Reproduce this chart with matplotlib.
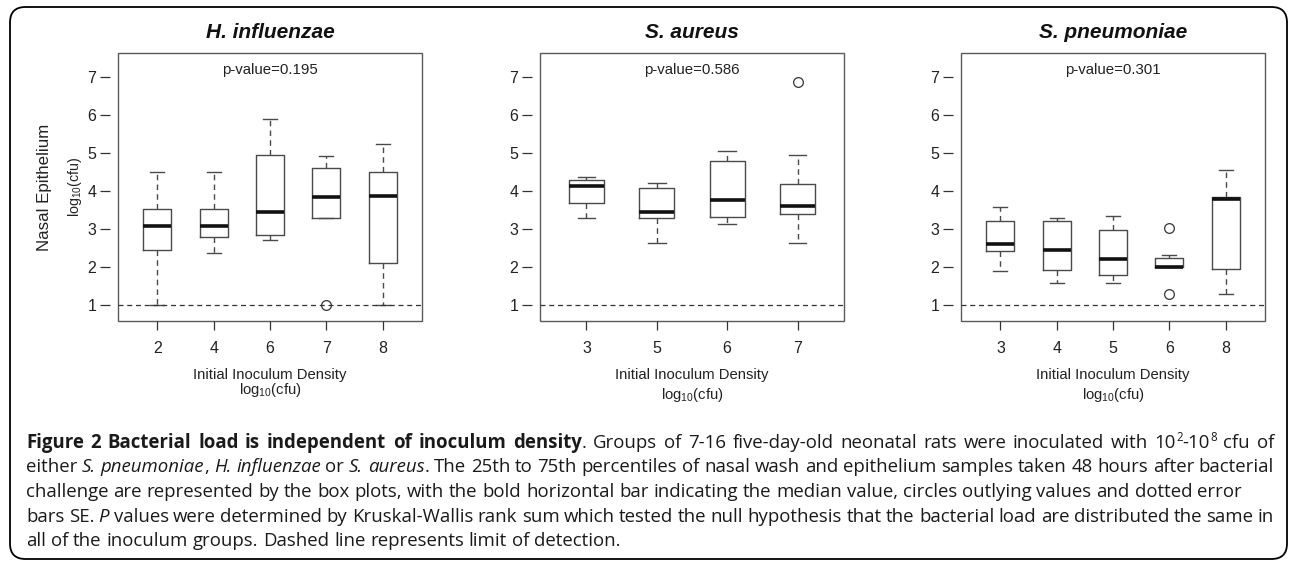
import matplotlib
matplotlib.use("Agg")
import matplotlib.pyplot as plt
from matplotlib import font_manager
from matplotlib.font_manager import FontProperties
from matplotlib.patches import Rectangle, FancyBboxPatch

W, H = 1290, 562

# ---------------- data ----------------
titles = ["H. influenzae", "S. aureus", "S. pneumoniae"]
p_values = ["0.195", "0.586", "0.301"]

hi_groups = ["2", "4", "6", "7", "8"]
hi_whishi = [4.49, 4.49, 5.89, 4.93, 5.24]
hi_q3 = [3.53, 3.53, 4.95, 4.61, 4.51]
hi_med = [3.08, 3.08, 3.46, 3.83, 3.88]
hi_q1 = [2.45, 2.78, 2.83, 3.29, 2.11]
hi_whislo = [1.00, 2.38, 2.72, 3.29, 1.00]
hi_fliers = [[], [], [], [1.00], []]

sa_groups = ["3", "5", "6", "7"]
sa_whishi = [4.37, 4.20, 5.04, 4.95]
sa_q3 = [4.29, 4.07, 4.80, 4.18]
sa_med = [4.12, 3.46, 3.77, 3.60]
sa_q1 = [3.68, 3.29, 3.32, 3.39]
sa_whislo = [3.29, 2.64, 3.14, 2.64]
sa_fliers = [[], [], [], [6.86]]

sp_groups = ["3", "4", "5", "6", "8"]
sp_whishi = [3.59, 3.29, 3.35, 2.31, 4.54]
sp_q3 = [3.20, 3.20, 2.98, 2.25, 3.84]
sp_med = [2.61, 2.46, 2.22, 2.00, 3.78]
sp_q1 = [2.41, 1.92, 1.79, 2.00, 1.96]
sp_whislo = [1.89, 1.59, 1.59, 2.00, 1.29]
sp_fliers = [[], [], [], [3.02, 1.29], []]

detection_limit = 1.0

panels = [
    (hi_groups, hi_whislo, hi_q1, hi_med, hi_q3, hi_whishi, hi_fliers),
    (sa_groups, sa_whislo, sa_q1, sa_med, sa_q3, sa_whishi, sa_fliers),
    (sp_groups, sp_whislo, sp_q1, sp_med, sp_q3, sp_whishi, sp_fliers),
]


def pick(names):
    for n in names:
        try:
            font_manager.findfont(n, fallback_to_default=False)
            return n
        except ValueError:
            pass
    return "DejaVu Sans"


plot_font = pick(["Liberation Sans", "Arial", "DejaVu Sans"])
cap_font = pick(["Open Sans", "Noto Sans", "DejaVu Sans"])

plt.rcParams["font.family"] = plot_font
plt.rcParams["mathtext.fontset"] = "custom"
plt.rcParams["mathtext.rm"] = plot_font
plt.rcParams["mathtext.it"] = plot_font + ":italic"

fig = plt.figure(figsize=(W / 100, H / 100), dpi=100)


def fx(x):
    return x / W


def fy(y):
    return 1 - y / H


# outer rounded border
fig.patches.append(FancyBboxPatch((fx(10), fy(559)), fx(1287) - fx(10), fy(7) - fy(559),
                                  boxstyle="round,pad=0,rounding_size=0.012",
                                  transform=fig.transFigure, fill=False,
                                  ec="black", lw=1.3, mutation_aspect=W / H))

# ---------------- box plot panels ----------------
ax_left = [118, 540, 961]
ax_w = 304
ax_top, ax_bot = 53, 321
box_c = "#4a4a4a"
txt_c = "#222222"
dash = (0, (4, 3))

for i, (groups, wlo, q1, med, q3, whi, fl) in enumerate(panels):
    ax = fig.add_axes([fx(ax_left[i]), fy(ax_bot), ax_w / W, (ax_bot - ax_top) / H])
    n = len(groups)
    stats = [dict(whislo=wlo[k], q1=q1[k], med=med[k], q3=q3[k], whishi=whi[k], fliers=fl[k])
             for k in range(n)]
    ax.bxp(stats, positions=range(1, n + 1), widths=0.5, capwidths=0.25,
           boxprops=dict(color=box_c, lw=1.0),
           medianprops=dict(color="#111111", lw=2.6, solid_capstyle="butt"),
           whiskerprops=dict(color=box_c, lw=1.0, ls=dash),
           capprops=dict(color=box_c, lw=1.0),
           flierprops=dict(marker="o", mfc="none", mec="#333333", ms=7, mew=0.9))
    ax.axhline(detection_limit, color="#333333", lw=0.9, ls=dash)

    ax.set_xlim(0.5 - 0.04 * n, n + 0.5 + 0.04 * n)
    ax.set_ylim(0.58, 7.63)
    ax.set_yticks(range(1, 8))
    ax.set_xticks(range(1, n + 1))
    ax.set_xticklabels(groups)

    for s in ax.spines.values():
        s.set_visible(False)
    ax.spines["left"].set_position(("outward", 6))
    ax.add_patch(Rectangle((0, 0), 1, 1, transform=ax.transAxes, fill=False,
                           ec="#5a5a5a", lw=1.0, clip_on=False))
    ax.tick_params(axis="y", length=7.2, width=0.9, color="#333333",
                   labelsize=11.5, pad=2.5, labelcolor=txt_c)
    ax.tick_params(axis="x", length=6.5, width=0.9, color="#333333",
                   labelsize=11.5, pad=8, labelcolor=txt_c)

    ax.text((n + 1) / 2, 7.18, "p-value=" + p_values[i], ha="center", va="center",
            fontsize=10.8, color=txt_c)

    cx = fx(ax_left[i] + ax_w / 2)
    fig.text(cx, fy(32), titles[i], ha="center", va="center", fontsize=15,
             fontweight="bold", fontstyle="italic", color="#111111")
    fig.text(cx, fy(375), "Initial Inoculum Density", ha="center", va="center",
             fontsize=10.7, color=txt_c)
    fig.text(cx, fy(390 if i == 0 else 395), r"log$_{10}$(cfu)", ha="center", va="center",
             fontsize=10.7, color=txt_c)

fig.text(fx(45), fy(187), "Nasal Epithelium", rotation=90, ha="center", va="center",
         fontsize=12.2, color=txt_c)
fig.text(fx(75), fy(187), r"log$_{10}$(cfu)", rotation=90, ha="center", va="center",
         fontsize=10.3, color=txt_c)

# ---------------- caption ----------------
N, B, I, S = "n", "b", "i", "s"
cap_lines = [
    [("Figure 2 Bacterial load is independent of inoculum density", B),
     (". Groups of 7-16 five-day-old neonatal rats were inoculated with 10", N),
     ("2", S), ("-10", N), ("8", S), (" cfu of", N)],
    [("either ", N), ("S. pneumoniae", I), (", ", N), ("H. influenzae", I), (" or ", N),
     ("S. aureus", I),
     (". The 25th to 75th percentiles of nasal wash and epithelium samples taken 48 hours after bacterial", N)],
    [("challenge are represented by the box plots, with the bold horizontal bar indicating the median value, circles outlying values and dotted error", N)],
    [("bars SE. ", N), ("P", I),
     (" values were determined by Kruskal-Wallis rank sum which tested the null hypothesis that the bacterial load are distributed the same in", N)],
    [("all of the inoculum groups. Dashed line represents limit of detection.", N)],
]
justify = [True, True, False, True, False]
cap_x0, cap_x1 = 26, 1274
cap_y0, cap_dy = 443, 24.5

renderer = fig.canvas.get_renderer()


def props(kind, size):
    if kind == S:
        return FontProperties(family=cap_font, size=size * 0.62)
    return FontProperties(family=cap_font, size=size,
                          weight="bold" if kind == B else "normal",
                          style="italic" if kind == I else "normal")


def width(s, prop):
    # pixel advance, robust to leading / trailing blanks
    a = renderer.get_text_width_height_descent("|" + s + "|", prop, ismath=False)[0]
    b = renderer.get_text_width_height_descent("||", prop, ismath=False)[0]
    return a - b


def tokens(line, size):
    out = []
    for text, kind in line:
        prop = props(kind, size)
        parts = text.split(" ")
        for j, p in enumerate(parts):
            if j > 0:
                out.append((" ", kind, prop))
            if p:
                out.append((p, kind, prop))
    return out


def line_width(line, size):
    return sum(width(t, p) for t, k, p in tokens(line, size))


# fit font size so the justified lines fill the text width
size = 12.0
size *= (cap_x1 - cap_x0) / max(line_width(cap_lines[j], size) for j in range(len(cap_lines)) if justify[j])

for j, line in enumerate(cap_lines):
    toks = tokens(line, size)
    natural = sum(width(t, p) for t, k, p in toks)
    nsp = sum(1 for t, k, p in toks if t == " ")
    extra = (cap_x1 - cap_x0 - natural) / nsp if (justify[j] and nsp) else 0
    x = cap_x0
    base = cap_y0 + j * cap_dy + 5
    for t, k, p in toks:
        w = width(t, p)
        if t == " ":
            x += w + extra
            continue
        yb = base - (7 if k == S else 0)
        fig.text(fx(x), fy(yb), t, fontproperties=p, ha="left", va="baseline", color="#1a1a1a")
        x += w

fig.savefig("out.png", dpi=100)
